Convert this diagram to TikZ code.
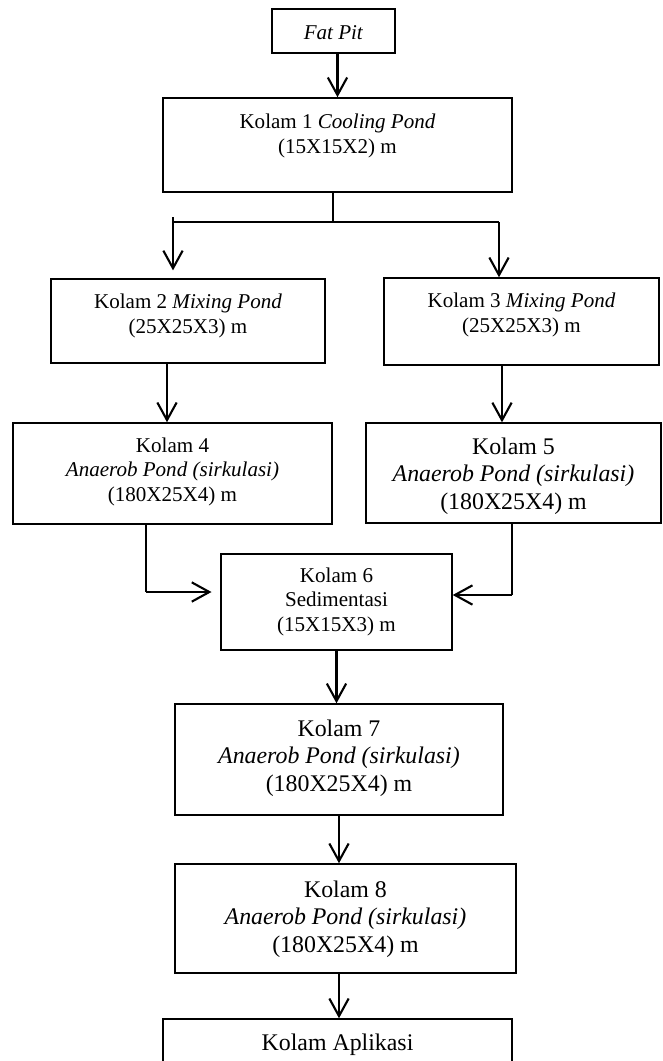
\documentclass[tikz,border=0pt]{standalone}
\usepackage{fontspec}
\setmainfont{Liberation Serif}
\usetikzlibrary{arrows.meta}

\begin{document}
\begin{tikzpicture}[x=0.57pt, y=-0.57pt,
  pond/.style={rectangle, draw, line width=0.8pt, inner sep=0pt, anchor=base, align=center, font=\fontsize{12}{13.8}\selectfont},
  bigpond/.style={pond, font=\fontsize{13.6}{15.4}\selectfont},
  flow/.style={-{Straight Barb[length=10pt, width=11pt]}, line width=1.2pt},
  feed/.style={line width=0.6pt}]
  \clip (0, 0) rectangle (663, 1061);
  % Nodes (placed at the baseline of their last line)
  \node (fp) [pond, minimum width=70.1pt, text height=17.1pt, text depth=8pt] at (333.5, 39) {\textit{Fat Pit}};
  \node (k1) [pond, minimum width=198.9pt, text height=31.4pt, text depth=22.2pt] at (337.5, 153) {Kolam 1 \textit{Cooling Pond}\\(15X15X2) m};
  \node (k2) [pond, minimum width=156.2pt, text height=30.8pt, text depth=17.1pt] at (188, 333) {Kolam 2 \textit{Mixing Pond}\\(25X25X3) m};
  \node (k3) [pond, minimum width=156.8pt, text height=30.8pt, text depth=18.8pt] at (521.5, 332) {Kolam 3 \textit{Mixing Pond}\\(25X25X3) m};
  \node (k4) [pond, minimum width=181.8pt, text height=44.5pt, text depth=13.1pt] at (172.5, 501) {Kolam 4\\\textit{Anaerob Pond (sirkulasi)}\\(180X25X4) m};
  \node (k5) [bigpond, minimum width=168.2pt, text height=49pt, text depth=8pt] at (513.5, 509) {Kolam 5\\\textit{Anaerob Pond (sirkulasi)}\\(180X25X4) m};
  \node (k6) [pond, minimum width=131.7pt, text height=43.9pt, text depth=10.8pt] at (336.5, 631) {Kolam 6\\Sedimentasi\\(15X15X3) m};
  \node (k7) [bigpond, minimum width=187pt, text height=49.6pt, text depth=13.7pt] at (339, 791) {Kolam 7\\\textit{Anaerob Pond (sirkulasi)}\\(180X25X4) m};
  \node (k8) [bigpond, minimum width=194.4pt, text height=50.2pt, text depth=12pt] at (345.5, 952) {Kolam 8\\\textit{Anaerob Pond (sirkulasi)}\\(180X25X4) m};
  \node (ka) [bigpond, minimum width=198.9pt, text height=17.7pt, text depth=28.5pt] at (337.5, 1050) {Kolam Aplikasi};
  % Junctions
  \coordinate (sm) at (333, 222);
  \coordinate (sl) at (173, 217);
  \coordinate (sr) at (499, 222);
  \coordinate (l2) at (167, 0);
  \coordinate (l3) at (502, 0);
  \coordinate (j4) at (146, 592);
  \coordinate (j5) at (512, 595);
  % Arrows
  \draw[flow] (k1.north |- fp.south) -- (k1.north);
  \draw[feed] (k1.south -| sm) -- (sm);
  \draw[feed] (sl |- sm) -- (sr);
  \draw[flow, shorten >=4.5pt] (sl) -- (sl |- k2.north);
  \draw[flow] (sr) -- (sr |- k3.north);
  \draw[flow] (k2.south -| l2) -- (k4.north -| l2);
  \draw[flow] (k3.south -| l3) -- (k5.north -| l3);
  \draw[feed] (k4.south -| j4) -- (j4);
  \draw[flow, shorten >=5pt] (j4) -- (j4 -| k6.west);
  \draw[feed] (k5.south -| j5) -- (j5);
  \draw[flow] (j5) -- (j5 -| k6.east);
  \draw[flow] (k6.south) -- (k6.south |- k7.north);
  \draw[flow] (k7.south) -- (k7.south |- k8.north);
  \draw[flow] (k8.south -| k7.south) -- (ka.north -| k7.south);
\end{tikzpicture}
\end{document}
